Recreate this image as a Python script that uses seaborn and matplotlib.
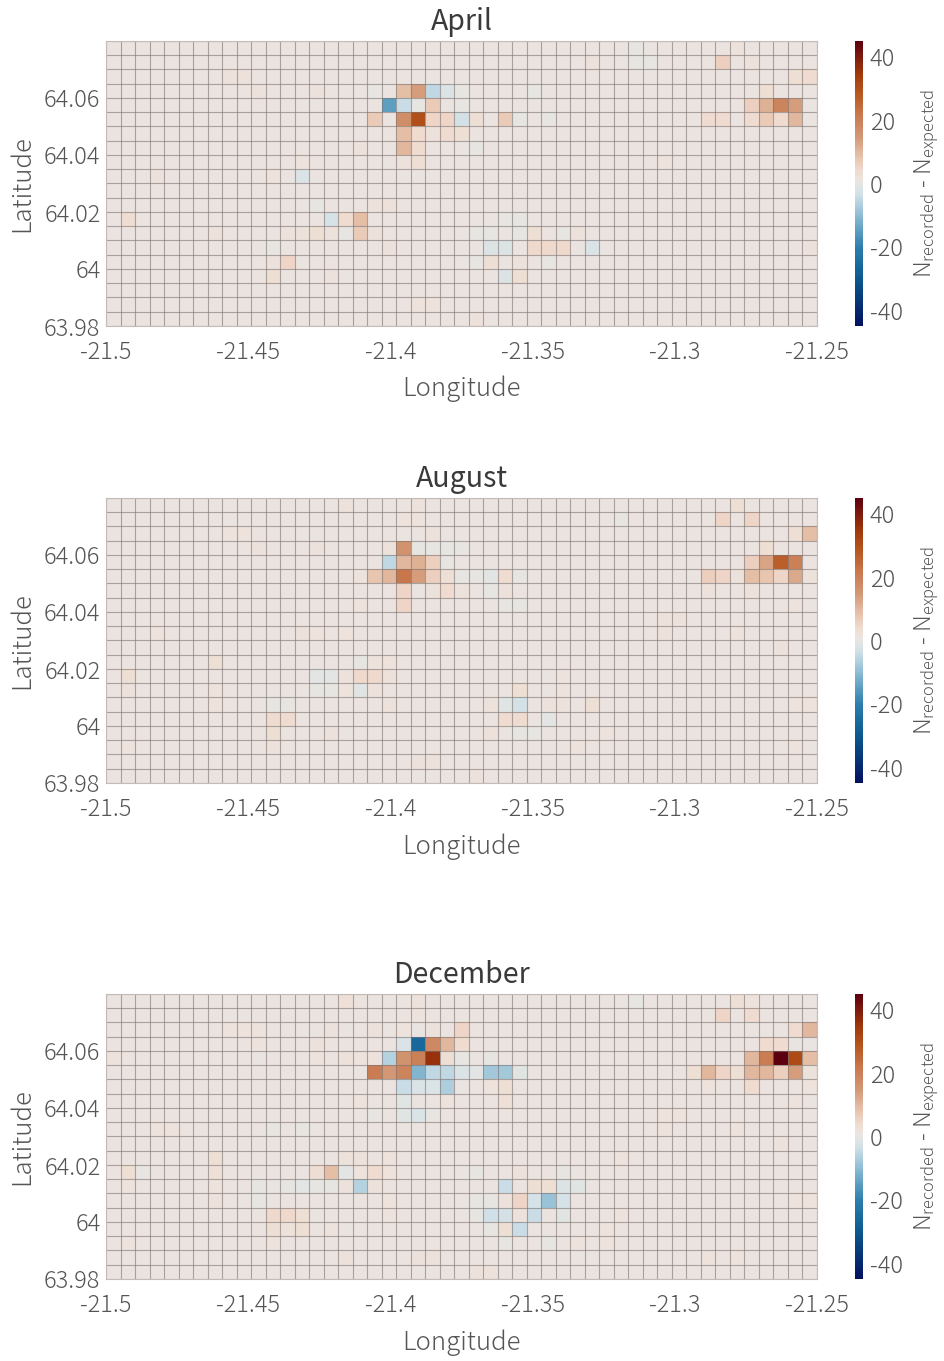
import numpy as np
import pandas as pd
import seaborn as sns
import matplotlib.pyplot as plt
from matplotlib.colors import LinearSegmentedColormap

# griglia: 20 righe (dall'alto) x 49 colonne, celle non elencate = sfondo
N_ROWS = 20
N_COLS = 49
BACKGROUND = 1.0

months = ["April", "August", "December"]
lon_ticks = [-21.5, -21.45, -21.4, -21.35, -21.3, -21.25]
lon_labels = ["-21.5", "-21.45", "-21.4", "-21.35", "-21.3", "-21.25"]
lat_ticks = [63.98, 64.0, 64.02, 64.04, 64.06]
lat_labels = ["63.98", "64", "64.02", "64.04", "64.06"]
cbar_ticks = [-40, -20, 0, 20, 40]
cbar_labels = ["-40", "-20", "0", "20", "40"]

# (riga, colonna, N_recorded - N_expected)
april = [
    (0, 36, 0), (0, 43, 2),
    (1, 33, 2), (1, 36, 0), (1, 37, 0), (1, 42, 6), (1, 44, 2),
    (2, 8, 2), (2, 9, 2), (2, 47, 3), (2, 48, 4),
    (3, 10, 2), (3, 14, 2), (3, 18, 0), (3, 20, 9), (3, 21, 14), (3, 22, -5), (3, 23, -1.5), (3, 24, 0),
    (3, 29, 0), (3, 45, 3),
    (4, 19, -15), (4, 20, -4), (4, 21, 0), (4, 22, 7), (4, 24, 0), (4, 44, 6), (4, 45, 11), (4, 46, 19), (4, 47, 14),
    (5, 18, 7), (5, 20, 17), (5, 21, 30), (5, 22, 5), (5, 23, 5), (5, 24, -3), (5, 25, 3), (5, 27, 7), (5, 28, 0),
    (5, 30, 0), (5, 41, 4), (5, 42, 4), (5, 44, 4), (5, 45, 7), (5, 46, 4), (5, 47, 10),
    (6, 20, 9), (6, 21, 4), (6, 22, 2), (6, 23, 4), (6, 24, 3),
    (7, 17, 2), (7, 20, 10), (7, 21, 4), (7, 25, 0),
    (8, 13, 1.5), (8, 20, 2), (8, 21, 3), (8, 38, 1.5),
    (9, 3, 2), (9, 11, 1.5), (9, 13, -2),
    (11, 14, 0), (11, 18, 2), (11, 19, 2),
    (12, 1, 3.5), (12, 15, -2.5), (12, 16, 4), (12, 17, 9), (12, 27, 0), (12, 28, 0),
    (13, 7, 2), (13, 12, 2), (13, 13, 2), (13, 14, 3), (13, 15, 2), (13, 16, 0), (13, 17, 7), (13, 18, 2),
    (13, 25, 0), (13, 26, 0), (13, 28, 0), (13, 29, 3), (13, 31, 0), (13, 32, 2),
    (14, 11, 0), (14, 19, 2), (14, 26, -1.5), (14, 27, -1.5), (14, 29, 4.5), (14, 30, 4.5), (14, 31, 4.5),
    (14, 33, -2), (14, 48, 2),
    (15, 11, 2), (15, 12, 5), (15, 25, 0), (15, 26, 3), (15, 28, 2), (15, 30, 0),
    (16, 11, 3), (16, 15, 2), (16, 27, -1.5), (16, 28, 3),
    (18, 21, 1.5), (18, 22, 1.5),
    (19, 25, 2),
]

august = [
    (0, 16, 2), (0, 21, 2), (0, 43, 3),
    (1, 20, 1.5), (1, 21, 1.5), (1, 35, 0), (1, 42, 5), (1, 44, 5),
    (2, 8, 1.5), (2, 9, 1.5), (2, 22, 2), (2, 47, 3), (2, 48, 9),
    (3, 10, 2), (3, 14, 2), (3, 19, 2), (3, 20, 16), (3, 21, 0), (3, 22, 0), (3, 23, 0), (3, 24, 0), (3, 45, 3),
    (4, 19, -5), (4, 20, 10), (4, 21, 11), (4, 22, 6), (4, 23, 0), (4, 44, 6), (4, 45, 13), (4, 46, 27), (4, 47, 20),
    (5, 17, 1.5), (5, 18, 8), (5, 19, 10), (5, 20, 22), (5, 21, 14), (5, 22, 6), (5, 23, 3), (5, 24, 0), (5, 25, 0),
    (5, 26, -0.5), (5, 27, 4), (5, 28, 0), (5, 41, 6), (5, 42, 5), (5, 43, 2), (5, 44, 9), (5, 45, 8), (5, 46, 5),
    (5, 47, 12), (5, 48, 2),
    (6, 20, 5), (6, 21, 0.5), (6, 22, 2), (6, 23, 4), (6, 24, 2), (6, 26, 0), (6, 27, 2), (6, 41, 2), (6, 44, 2),
    (7, 17, 1.5), (7, 20, 5), (7, 27, 0), (7, 28, 0), (7, 47, 1.5),
    (8, 38, 2), (8, 39, 2),
    (9, 3, 1.5), (9, 13, 2), (9, 14, 1.5), (9, 16, 1.5), (9, 38, 2), (9, 43, 1.5),
    (10, 46, 2),
    (11, 7, 3), (11, 17, 0), (11, 18, 1.5), (11, 19, 1.5),
    (12, 1, 3), (12, 14, -0.5), (12, 15, -0.5), (12, 16, 2), (12, 17, 4.5), (12, 18, 4.5), (12, 19, 2), (12, 31, 1.5),
    (13, 1, 2), (13, 7, 1.5), (13, 14, 0), (13, 15, 0), (13, 16, 1.5), (13, 17, -1), (13, 18, 2), (13, 28, 3), (13, 31, 1.5),
    (14, 7, 1.5), (14, 11, 0), (14, 12, 0), (14, 19, 2), (14, 26, 2), (14, 27, -1), (14, 28, -3), (14, 30, 2),
    (14, 31, 2), (14, 33, 3), (14, 47, 1.5), (14, 48, 1.5),
    (15, 11, 4), (15, 12, 4), (15, 27, 4), (15, 28, 4), (15, 30, -0.5),
    (16, 11, 3), (16, 15, 2), (16, 26, 2), (16, 28, 0), (16, 29, 0), (16, 34, 1.5),
    (17, 1, 1.5), (17, 11, 2), (17, 32, 1.5), (17, 47, 1.5),
    (18, 21, 2), (18, 22, 2),
    (19, 25, 2),
]

december = [
    (0, 16, 2.5), (0, 21, 2), (0, 36, 0), (0, 43, 3), (0, 44, 1.5),
    (1, 21, 1.5), (1, 42, 5), (1, 44, 4),
    (2, 8, 1.5), (2, 9, 1.5), (2, 10, 1.5), (2, 15, 2), (2, 18, 2), (2, 20, 1.5), (2, 21, 0.5), (2, 22, 2), (2, 24, 5),
    (2, 44, 0.5), (2, 47, 4), (2, 48, 10),
    (3, 10, 1.5), (3, 14, 2), (3, 20, -2), (3, 21, -26), (3, 22, 18), (3, 23, 10), (3, 24, 4), (3, 45, 4), (3, 46, 4),
    (3, 47, 0.5), (3, 48, 0.5),
    (4, 0, 1.5), (4, 10, 0.5), (4, 14, 1.5), (4, 16, 2), (4, 17, 1.5), (4, 18, 2), (4, 19, -6), (4, 20, 16), (4, 21, 20),
    (4, 22, 36), (4, 23, 3), (4, 24, 0), (4, 26, 0), (4, 44, 10), (4, 45, 21), (4, 46, 45), (4, 47, 31), (4, 48, 9),
    (5, 0, 0.5), (5, 18, 21), (5, 19, 15), (5, 20, 19), (5, 21, -11), (5, 22, -5), (5, 23, -5), (5, 24, -2), (5, 25, -0.5),
    (5, 26, -8), (5, 27, -8), (5, 28, -1), (5, 40, 3), (5, 41, 10), (5, 42, 5), (5, 43, 3), (5, 44, 10), (5, 45, 10),
    (5, 46, 6), (5, 47, 14), (5, 48, 2),
    (6, 20, -4), (6, 21, -2), (6, 22, -2), (6, 23, -7), (6, 24, 0.5), (6, 26, 1.5), (6, 27, 3), (6, 41, 1.5), (6, 44, 4), (6, 48, 1.5),
    (7, 17, 1.5), (7, 20, -1), (7, 23, 1.5), (7, 27, 2.5), (7, 47, 1.5),
    (8, 18, 0), (8, 20, -1), (8, 21, -2), (8, 22, 0), (8, 38, 1.5), (8, 39, 1.5),
    (9, 3, 1.5), (9, 4, 1.5), (9, 11, 0), (9, 13, 0), (9, 38, 1.5), (9, 43, 1.5),
    (10, 46, 1.5),
    (11, 7, 3), (11, 16, 2), (11, 17, 2), (11, 19, 1.5), (11, 35, 1.5),
    (12, 1, 3), (12, 2, 0), (12, 7, 2.5), (12, 14, 3.5), (12, 15, 9), (12, 16, -0.5), (12, 17, 1.5), (12, 18, 4), (12, 19, 1.5),
    (12, 25, 0), (12, 28, 2), (12, 31, 0),
    (13, 1, 1.5), (13, 7, 1.5), (13, 10, 0), (13, 11, 0.5), (13, 12, 0), (13, 13, -0.5), (13, 14, 0), (13, 15, 0), (13, 16, 2),
    (13, 17, -6), (13, 18, 2), (13, 27, -4), (13, 29, 3), (13, 30, 3), (13, 31, -1.5), (13, 32, -1),
    (14, 7, 2), (14, 10, 0), (14, 19, 1.5), (14, 25, 0), (14, 26, 0), (14, 27, 2), (14, 28, 5), (14, 29, -2.5), (14, 30, -9),
    (14, 31, -2.5), (14, 47, 1.5), (14, 48, 1.5),
    (15, 11, 4.5), (15, 12, 4.5), (15, 13, 3), (15, 19, 1.5), (15, 25, 0), (15, 26, -3.5), (15, 27, -3), (15, 28, 2), (15, 29, -4),
    (15, 31, -1), (15, 35, 1.5),
    (16, 11, 3), (16, 12, 2), (16, 13, 3), (16, 15, 1.5), (16, 26, 0), (16, 27, 3), (16, 28, -4), (16, 34, 1.5),
    (17, 1, 1.5), (17, 11, 1.5), (17, 27, 0), (17, 30, 0), (17, 32, 1.5), (17, 34, 1.5),
    (18, 16, 2), (18, 21, 2), (18, 22, 2), (18, 41, 1.5), (18, 43, 1.5),
    (19, 25, 2), (19, 26, 2),
]

sns.set_theme(style="white")
plt.rcParams["font.family"] = ["Noto Sans CJK JP", "DejaVu Sans"]
plt.rcParams["mathtext.default"] = "regular"

vik_like = LinearSegmentedColormap.from_list(
    "vik_like",
    [
        (0.0, "#02115f"), (0.17, "#0c5a90"), (0.28, "#2f80ae"), (0.39, "#8fbdd4"),
        (0.46, "#cfe0e8"), (0.5, "#e6e6e3"), (0.511, "#ece3df"), (0.53, "#eee0d7"),
        (0.55, "#efd9cc"), (0.59, "#e8c4ae"),
        (0.66, "#d39a78"), (0.74, "#c9794e"), (0.82, "#b5561e"), (0.88, "#a33c0b"),
        (1.0, "#5c0010"),
    ],
)

W, H = 945, 1361
fig = plt.figure(figsize=(W / 100, H / 100), dpi=100)
tops = [41, 498, 994]
TEXT = "#555555"

for month, cells, top in zip(months, [april, august, december], tops):
    grid = pd.DataFrame(np.full((N_ROWS, N_COLS), BACKGROUND))
    for r, c, v in cells:
        grid.iloc[r, c] = v

    ax = fig.add_axes([106 / W, 1 - (top + 285) / H, 711 / W, 285 / H])
    cax = fig.add_axes([855 / W, 1 - (top + 285) / H, 8 / W, 285 / H])

    sns.heatmap(
        grid, ax=ax, cbar_ax=cax, cmap=vik_like, vmin=-45, vmax=45,
        linewidths=0, cbar_kws={"ticks": cbar_ticks},
    )
    # griglia sottile sopra le celle
    ax.hlines(np.arange(N_ROWS + 1), 0, N_COLS, color="#7d7472", linewidth=0.8, alpha=0.6)
    ax.vlines(np.arange(N_COLS + 1), 0, N_ROWS, color="#7d7472", linewidth=0.8, alpha=0.6)

    # assi reali in gradi, riportati sulle celle della heatmap
    xpos = [(lon - lon_ticks[0]) / (lon_ticks[-1] - lon_ticks[0]) * N_COLS for lon in lon_ticks]
    ypos = [(64.08 - lat) / 0.1 * N_ROWS for lat in lat_ticks]
    ax.set_xticks(xpos, lon_labels, rotation=0)
    ax.set_yticks(ypos, lat_labels, rotation=0, va="center_baseline")
    ax.tick_params(axis="x", length=0, labelsize=17, labelcolor=TEXT, pad=10)
    ax.tick_params(axis="y", length=0, labelsize=17, labelcolor=TEXT, pad=4)
    for lab in ax.get_xticklabels() + ax.get_yticklabels():
        lab.set_fontweight("light")

    ax.set_xlabel("Longitude", fontsize=18.5, color=TEXT, labelpad=8, fontweight="light")
    ax.set_ylabel("Latitude", fontsize=18.5, color=TEXT, labelpad=6, fontweight="light")
    ax.set_title(month, fontsize=20.5, color="#3a3a3a", pad=8)

    for side in ["top", "bottom", "left", "right"]:
        ax.spines[side].set_visible(True)
        ax.spines[side].set_color("#c4bbb8")
        ax.spines[side].set_linewidth(0.8)

    cbar = ax.collections[0].colorbar
    cbar.outline.set_visible(False)
    cbar.ax.set_yticks(cbar_ticks, cbar_labels)
    cbar.ax.tick_params(length=0, labelsize=17, labelcolor=TEXT, pad=5)
    for lab in cbar.ax.get_yticklabels():
        lab.set_fontweight("light")
    cbar.set_label("N$_{recorded}$ - N$_{expected}$", fontsize=17, color=TEXT, labelpad=7, fontweight="light")

fig.savefig("out.png", dpi=100)
